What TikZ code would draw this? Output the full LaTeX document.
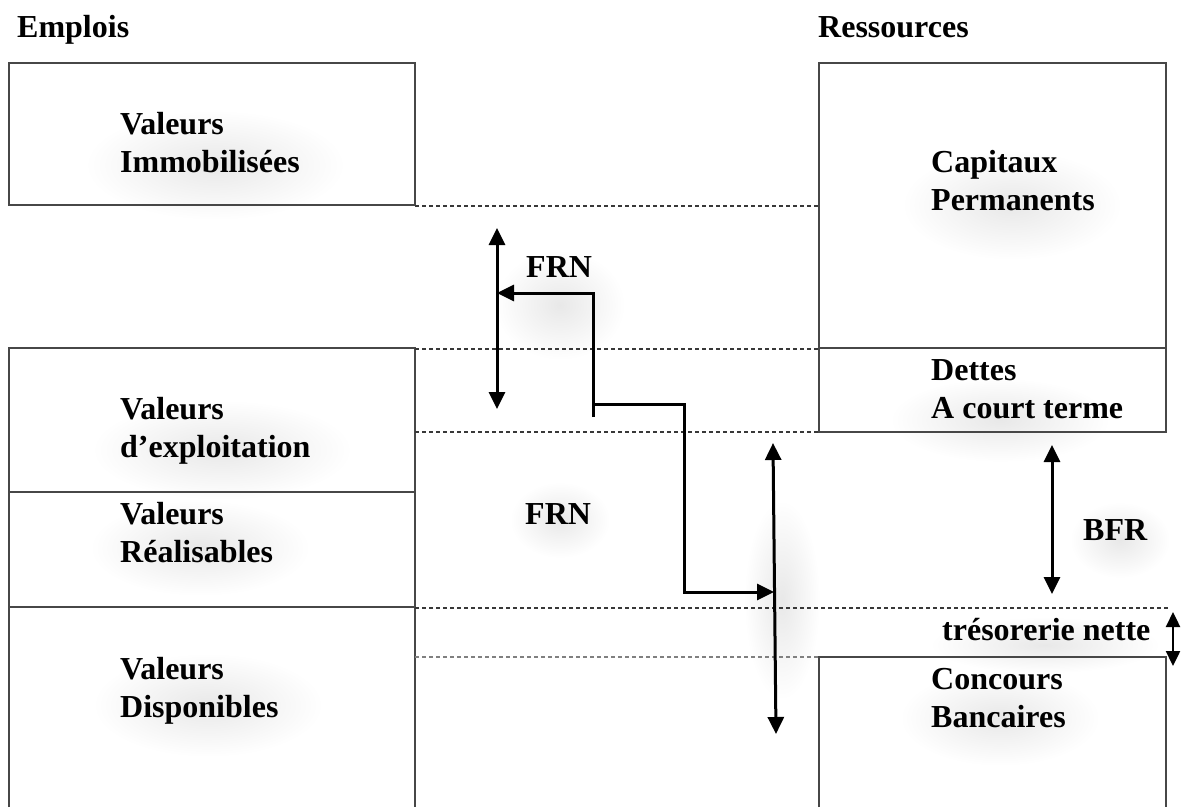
\documentclass[tikz,border=0pt]{standalone}
\usepackage{fontspec}
\setmainfont{Liberation Serif}
\usetikzlibrary{arrows.meta}

\tikzset{
  boxline/.style={line width=1.4pt, draw=black!72},
  guide/.style={line width=1.2pt, draw=black!78, dash pattern=on 4pt off 3pt},
  faintguide/.style={line width=1.1pt, draw=black!50, dash pattern=on 4pt off 3pt},
  flow/.style={line width=3pt, draw=black, -{Triangle[length=17pt,width=16pt]}},
  flowboth/.style={line width=3pt, draw=black, {Triangle[length=17pt,width=16pt]}-{Triangle[length=17pt,width=16pt]}},
  plain/.style={line width=3pt, draw=black},
  % multi-line labels are placed by the baseline of their last line
  lbl/.style={anchor=base west, inner sep=0pt, align=left,
              font=\fontsize{32}{38}\selectfont\bfseries},
  head/.style={anchor=base west, inner sep=0pt,
               font=\fontsize{32}{38}\selectfont\bfseries},
  glow/.style={inner color=black!9, outer color=white}
}

\begin{document}
\begin{tikzpicture}[x=1pt, y=-1pt]
  \useasboundingbox (0,0) rectangle (1183,807);
  \fill[white] (0,0) rectangle (1183,807);

  % soft shadows behind the labels
  \shade[glow] (215,165) ellipse (130 and 55);
  \shade[glow] (222,450) ellipse (130 and 50);
  \shade[glow] (200,548) ellipse (110 and 48);
  \shade[glow] (208,705) ellipse (115 and 52);
  \shade[glow] (1012,205) ellipse (110 and 55);
  \shade[glow] (1000,420) ellipse (110 and 42);
  \shade[glow] (1000,718) ellipse (100 and 48);
  \shade[glow] (1045,645) ellipse (115 and 28);
  \shade[glow] (1120,540) ellipse (50 and 38);
  \shade[glow] (560,305) ellipse (65 and 55);
  \shade[glow] (560,520) ellipse (50 and 38);
  \shade[glow] (782,600) ellipse (38 and 100);

  % ---- assets column (Emplois)
  \draw[boxline] (9,63) rectangle (415,205);
  \draw[boxline] (9,807) -- (9,348) -- (415,348) -- (415,807);
  \draw[boxline] (9,492) -- (415,492);
  \draw[boxline] (9,607) -- (415,607);

  % ---- resources column (Ressources)
  \draw[boxline] (819,63) rectangle (1166,348);
  \draw[boxline] (819,348) rectangle (1166,432);
  \draw[boxline] (819,807) -- (819,657) -- (1166,657) -- (1166,807);

  % ---- level guides
  \draw[guide] (415,206) -- (819,206);
  \draw[guide] (415,349) -- (819,349);
  \draw[guide] (415,432) -- (819,432);
  \draw[guide] (415,608) -- (1168,608);
  \draw[faintguide] (415,657) -- (819,657);

  % ---- headings
  \node[head] (emplois) at (17,37) {Emplois};
  \node[head] (ressources) at (818,37) {Ressources};

  % ---- block labels
  \node[lbl] (vi) at (120,172) {Valeurs\\Immobilisées};
  \node[lbl] (ve) at (120,457) {Valeurs\\d’exploitation};
  \node[lbl] (vr) at (120,562) {Valeurs\\Réalisables};
  \node[lbl] (vd) at (120,717) {Valeurs\\Disponibles};
  \node[lbl] (cp) at (931,210) {Capitaux\\Permanents};
  \node[lbl] (dct) at (931,418) {Dettes\\A court terme};
  \node[lbl] (cb) at (931,727) {Concours\\Bancaires};
  \node[lbl] (tn) at (942,640) {trésorerie nette};
  \node[lbl] (bfr) at (1083,540) {BFR};
  \node[lbl] (frn1) at (526,277) {FRN};
  \node[lbl] (frn2) at (525,524) {FRN};

  % ---- arrow end points
  \coordinate (fa) at (497,228);
  \coordinate (fb) at (497,409);
  \coordinate (s0) at (593,417);
  \coordinate (s1) at (593,293);
  \coordinate (s2) at (497,293);
  \coordinate (t0) at (593,404);
  \coordinate (t1) at (684,404);
  \coordinate (t2) at (684,592);
  \coordinate (t3) at (774,592);
  \coordinate (ga) at (773,443);
  \coordinate (gb) at (776,734);
  \coordinate (ba) at (1052,445);
  \coordinate (bb) at (1052,594);
  \coordinate (ta) at (1173,612);
  \coordinate (tb) at (1173,666);

  % FRN on the upper level
  \draw[flowboth] (fa) -- (fb);
  \draw[flow] (s0) -- (s1) -- (s2);
  % step down to the lower level
  \draw[plain, line cap=rect] (t0) -- (t1) -- (t2);
  \draw[flow] (t2) -- (t3);
  % FRN on the lower level
  \draw[flowboth] (ga) -- (gb);
  % BFR
  \draw[flowboth] (ba) -- (bb);
  % net cash
  \draw[line width=2.4pt, draw=black, {Triangle[length=15pt,width=14pt]}-{Triangle[length=15pt,width=14pt]}] (ta) -- (tb);
\end{tikzpicture}
\end{document}
